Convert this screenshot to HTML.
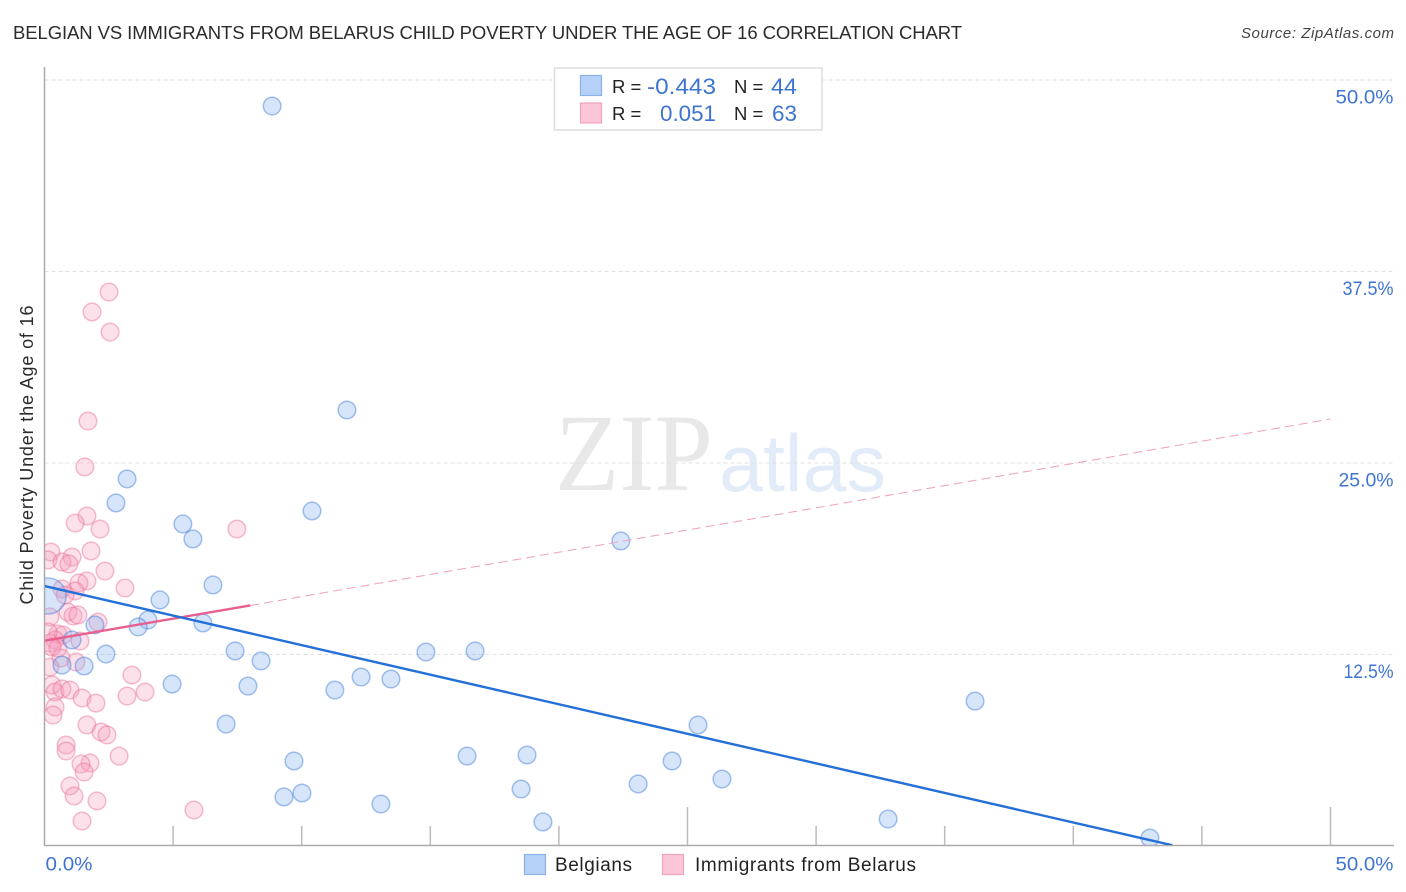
<!DOCTYPE html>
<html lang="en">
<head>
<meta charset="utf-8">
<title>Belgian vs Immigrants from Belarus Child Poverty Correlation Chart</title>
<style>
html,body{margin:0;padding:0;background:#fff;width:1406px;height:892px;overflow:hidden}
svg{display:block}
text{font-family:"Liberation Sans",sans-serif}
</style>
</head>
<body>
<svg id="chart" xmlns="http://www.w3.org/2000/svg" width="1406" height="892" viewBox="0 0 1406 892">
  <defs>
    <clipPath id="plot-clip"><rect x="45" y="67" width="1349" height="778"/></clipPath>
  </defs>
  <rect x="0" y="0" width="1406" height="892" fill="#fff"/>
  <text x="13" y="39" font-size="18.5" fill="#2b2b2b" textLength="949" lengthAdjust="spacing">BELGIAN VS IMMIGRANTS FROM BELARUS CHILD POVERTY UNDER THE AGE OF 16 CORRELATION CHART</text>
  <text x="1394" y="38" font-size="15" font-style="italic" fill="#444" text-anchor="end" textLength="153" lengthAdjust="spacing">Source: ZipAtlas.com</text>
  <text x="555" y="490" font-size="110" fill="#e8e8e8" style="font-family:'Liberation Serif',serif" textLength="158" lengthAdjust="spacingAndGlyphs">ZIP</text>
  <text x="719" y="491" font-size="81" fill="#e2ecf9" textLength="167" lengthAdjust="spacingAndGlyphs">atlas</text>
  <g id="grid"></g>
  <g id="axes"></g>
  <g id="points" clip-path="url(#plot-clip)"></g>
  <g id="trends" clip-path="url(#plot-clip)"></g>
  <text x="33" y="455" font-size="18" fill="#2b2b2b" text-anchor="middle" textLength="299" lengthAdjust="spacing" transform="rotate(-90 33 455)">Child Poverty Under the Age of 16</text>

  <g>
    <rect x="554.5" y="68" width="267.5" height="62" fill="#fff" stroke="#ddd" stroke-width="1.5"/>
    <rect x="580.5" y="75.5" width="21" height="20" fill="#b5d1f7" stroke="#8ab1e8" stroke-width="1.2"/>
    <rect x="580.5" y="103" width="21" height="20" fill="#fcc5d8" stroke="#f2a3bf" stroke-width="1.2"/>
    <text x="612" y="93" font-size="18.5" fill="#222">R =</text>
    <text x="647" y="94" font-size="22" fill="#3d74d0" textLength="69" lengthAdjust="spacingAndGlyphs">-0.443</text>
    <text x="734" y="93" font-size="18.5" fill="#222">N =</text>
    <text x="771" y="94" font-size="22" fill="#3d74d0" textLength="26" lengthAdjust="spacingAndGlyphs">44</text>
    <text x="612" y="120" font-size="18.5" fill="#222">R =</text>
    <text x="660" y="121" font-size="22" fill="#3d74d0" textLength="56" lengthAdjust="spacingAndGlyphs">0.051</text>
    <text x="734" y="120" font-size="18.5" fill="#222">N =</text>
    <text x="772" y="121" font-size="22" fill="#3d74d0" textLength="25" lengthAdjust="spacingAndGlyphs">63</text>
  </g>

  <g>
    <rect x="524.5" y="854.5" width="21" height="20" fill="#b5d1f7" stroke="#8ab1e8" stroke-width="1.2"/>
    <text x="555" y="871" font-size="19" fill="#222" textLength="77" lengthAdjust="spacing">Belgians</text>
    <rect x="662.5" y="854.5" width="21" height="20" fill="#fcc5d8" stroke="#f2a3bf" stroke-width="1.2"/>
    <text x="695" y="871" font-size="19" fill="#222" textLength="221" lengthAdjust="spacing">Immigrants from Belarus</text>
  </g>
</svg>

<script>
// Values in percent
const belgiansX = [8.85,11.76,3.21,2.78,10.40,5.38,5.77,22.41,6.55,4.49,4.02,6.16,3.64,1.96,1.07,2.39,1.54,0.68,7.41,8.42,14.83,16.74,4.96,7.91,11.29,12.31,13.47,36.18,7.06,25.41,9.70,16.43,18.76,24.40,26.34,23.08,18.53,9.31,10.01,13.08,19.38,32.80,42.98,0.14];
const belgiansY = [48.30,28.46,23.96,22.39,21.87,21.02,20.04,19.91,17.04,16.06,14.75,14.56,14.30,14.43,13.45,12.53,11.75,11.81,12.73,12.08,12.66,12.73,10.57,10.44,10.18,11.03,10.90,9.46,7.96,7.90,5.55,5.87,5.94,5.55,4.37,4.05,3.72,3.20,3.46,2.74,1.57,1.76,0.52,16.32];
const belarusX = [2.51,1.85,2.55,1.69,1.57,1.65,1.19,2.16,7.48,0.25,0.14,1.07,0.68,0.95,1.81,2.35,3.13,1.65,1.34,1.19,0.68,0.80,0.91,1.11,1.30,2.08,0.21,0.52,0.72,1.38,0.41,0.21,0.52,0.29,1.22,0.64,0.21,3.40,0.29,0.41,0.68,0.99,1.46,2.00,3.21,3.91,0.41,0.33,1.65,2.20,2.43,0.84,0.84,2.90,1.77,1.42,1.54,0.99,1.15,2.04,5.81,1.46,0.14];
const belarusY = [36.16,34.86,33.55,27.74,24.74,21.54,21.08,20.69,20.69,19.19,18.67,18.86,18.54,18.41,19.26,17.95,16.84,17.30,17.17,16.65,16.78,16.38,15.27,15.01,15.08,14.62,14.95,13.84,13.77,13.38,13.45,13.25,12.92,12.99,12.01,12.27,11.68,11.16,10.51,10.05,10.25,10.18,9.66,9.33,9.79,10.05,9.07,8.55,7.90,7.44,7.25,6.59,6.20,5.87,5.42,5.35,4.83,3.92,3.26,2.94,2.35,1.63,13.97];
const belgiansTrendX = [0,43.85];
const belgiansTrendY = [16.97,0.05];
const belarusTrendX = [0,8];
const belarusTrendY = [13.4,15.7];
const belarusProjectionX = [8,50];
const belarusProjectionY = [15.7,27.87];
const yTickValues = [12.5,25,37.5,50];
const yTickLabels = ["12.5%","25.0%","37.5%","50.0%"];
const xTickValues = [5,10,15,20,25,30,35,40,45,50];
const xMajorTicks = [25,50];
const xEdgeValues = [0,50];
const xEdgeLabels = ["0.0%","50.0%"];

const NS = "http://www.w3.org/2000/svg";
const xAt = v => 44.5 + v * 25.72;
const yAt = v => 846 - v * 15.32;
const glyphWidth = {"0":13,"1":8,"2":10,"3":10,"5":11,"7":9,".":5,"%":16};
const labelWidth = s => s.split("").reduce((sum, ch) => sum + (glyphWidth[ch] || 11), 0);
const make = (tag, attrs) => {
  const el = document.createElementNS(NS, tag);
  for (const k in attrs) el.setAttribute(k, attrs[k]);
  return el;
};
const grid = document.getElementById("grid");
const axes = document.getElementById("axes");
const pts = document.getElementById("points");
const trends = document.getElementById("trends");

yTickValues.forEach((v, i) => {
  const line = make("line", {x1:44.5, x2:1394, y1:yAt(v), y2:yAt(v), stroke:"#e0e0e0", "stroke-width":1, "stroke-dasharray":"4 3"});
  
  
  grid.appendChild(line);
  const label = make("text", {x:1393.5, y:yAt(v)+23.5, "font-size":19.5, fill:"#3f74d2", "text-anchor":"end", textLength:labelWidth(yTickLabels[i]), lengthAdjust:"spacingAndGlyphs"});
  label.textContent = yTickLabels[i];
  
  
  axes.appendChild(label);
});

const yAxis = make("line", {x1:44.5, x2:44.5, y1:67, y2:846, stroke:"#aaa", "stroke-width":1.5});


axes.appendChild(yAxis);
const xAxis = make("line", {x1:44, x2:1394, y1:845.5, y2:845.5, stroke:"#aaa", "stroke-width":1.5});


axes.appendChild(xAxis);

xTickValues.forEach(v => {
  const tall = xMajorTicks.includes(v);
  const tick = make("line", {x1:xAt(v), x2:xAt(v), y1:tall ? 807 : 826, y2:845, stroke:"#bbb", "stroke-width":1.5});
  
  
  axes.appendChild(tick);
});

xEdgeValues.forEach((v, i) => {
  const first = i === 0;
  const label = make("text", {x:first ? xAt(v)+1 : 1393.5, y:870.5, "font-size":19.5, fill:"#3f74d2", "text-anchor":first ? "start" : "end", textLength:labelWidth(xEdgeLabels[i]), lengthAdjust:"spacingAndGlyphs"});
  label.textContent = xEdgeLabels[i];
  
  
  axes.appendChild(label);
});

belarusX.forEach((v, i) => {
  const c = make("circle", {cx:xAt(v), cy:yAt(belarusY[i]), r:8.8, fill:"rgba(247,160,190,0.32)", stroke:"rgba(232,110,150,0.45)", "stroke-width":1.5});
  
  
  pts.appendChild(c);
});
const largeBelgianIndex = belgiansX.length - 1;
belgiansX.forEach((v, i) => {
  const c = make("circle", {cx:xAt(v), cy:yAt(belgiansY[i]), r:i === largeBelgianIndex ? 18 : 8.8, fill:"rgba(130,175,238,0.33)", stroke:"rgba(60,120,215,0.45)", "stroke-width":1.5});
  
  
  pts.appendChild(c);
});

const dash = make("line", {x1:xAt(belarusProjectionX[0]), y1:yAt(belarusProjectionY[0]), x2:xAt(belarusProjectionX[1]), y2:yAt(belarusProjectionY[1]), stroke:"#efa0ba", "stroke-width":1, "stroke-dasharray":"9 5"});


trends.appendChild(dash);
const pinkTrend = make("line", {x1:xAt(belarusTrendX[0]), y1:yAt(belarusTrendY[0]), x2:xAt(belarusTrendX[1]), y2:yAt(belarusTrendY[1]), stroke:"#e8608f", "stroke-width":2.4});


trends.appendChild(pinkTrend);
const blueTrend = make("line", {x1:xAt(belgiansTrendX[0]), y1:yAt(belgiansTrendY[0]), x2:xAt(belgiansTrendX[1]), y2:yAt(belgiansTrendY[1]), stroke:"#2470d8", "stroke-width":2.4});


trends.appendChild(blueTrend);
</script>
</body>
</html>
